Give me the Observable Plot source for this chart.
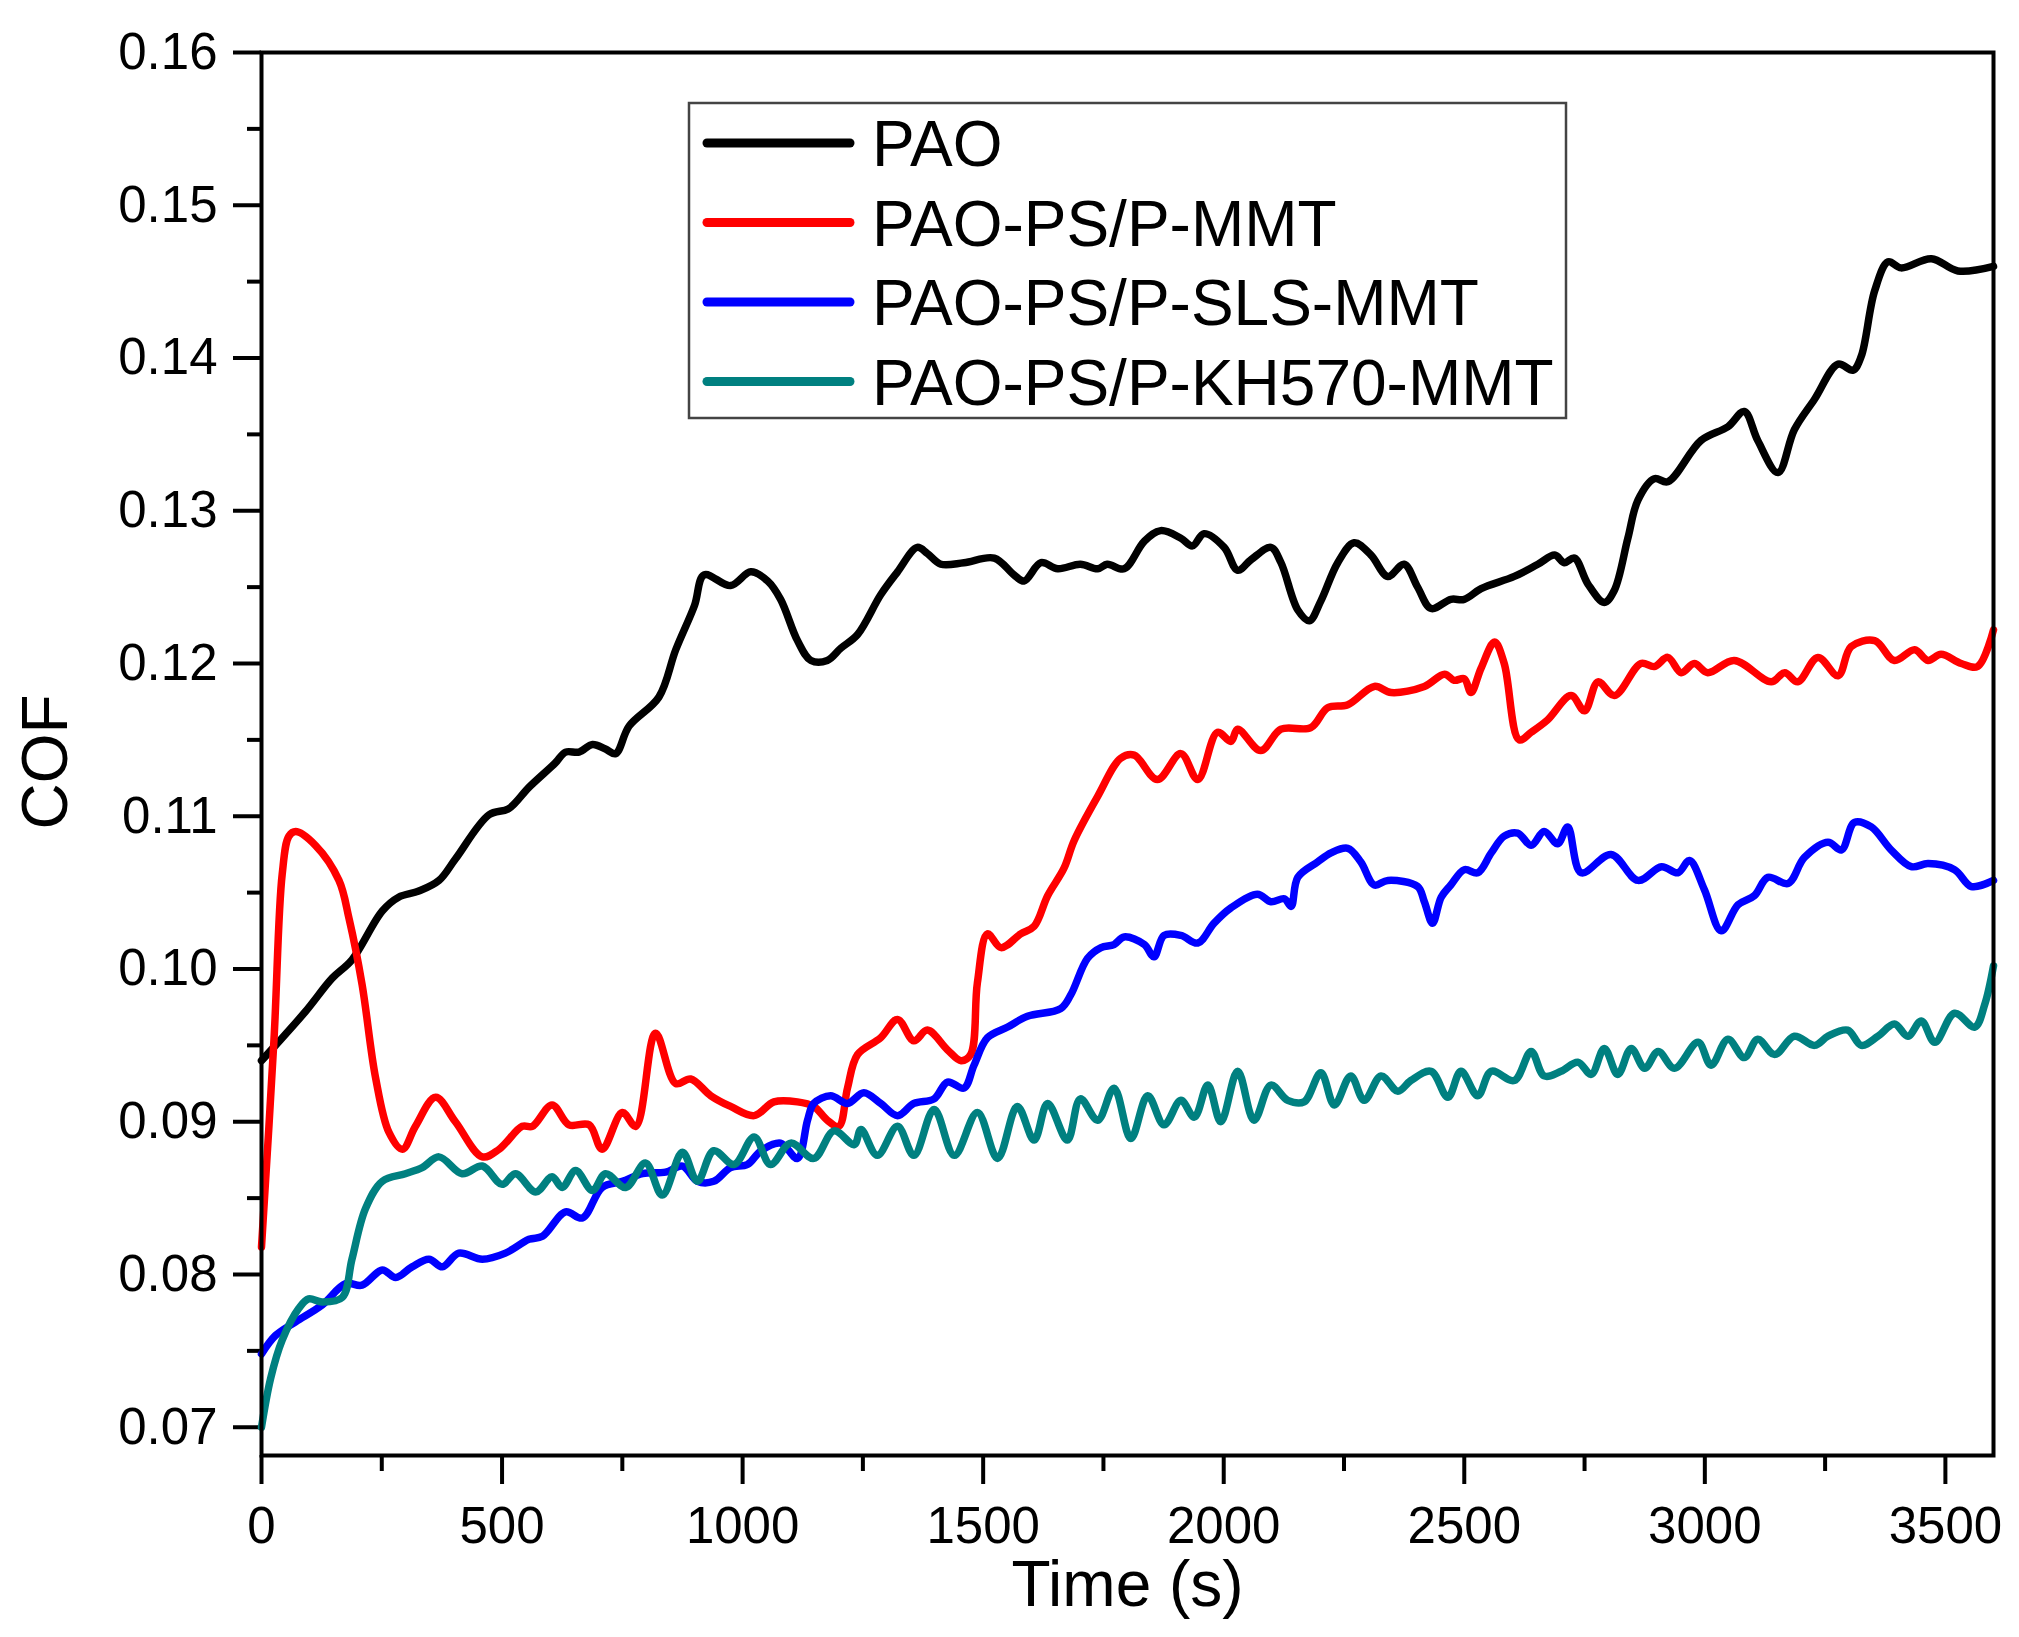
<!DOCTYPE html>
<html>
<head>
<meta charset="utf-8">
<script src="https://cdn.jsdelivr.net/npm/d3@7"></script>
<script src="https://cdn.jsdelivr.net/npm/@observablehq/plot@0.6"></script>
<style>
  html, body { margin: 0; padding: 0; background: #fff; }
  #chart { width: 2019px; height: 1637px; }
</style>
</head>
<body>
<div id="chart"></div>
<script>
const seriesNames = ["PAO", "PAO-PS/P-MMT", "PAO-PS/P-SLS-MMT", "PAO-PS/P-KH570-MMT"];
const seriesColors = ["#000000", "#ff0000", "#0000ff", "#008080"];

const tPAO = [0,29,91,147,188,251,285,327,369,403,473,514,556,611,632,660,688,715,736,764,826,861,900,920,975,1017,1052,1079,1114,1142,1176,1204,1239,1287,1322,1363,1384,1412,1460,1523,1564,1585,1620,1655,1702,1738,1758,1793,1835,1869,1911,1935,1959,2001,2029,2057,2098,2119,2154,2178,2202,2237,2271,2306,2341,2375,2403,2431,2472,2500,2535,2604,2653,2688,2708,2729,2757,2791,2812,2840,2861,2895,2923,2992,3048,3082,3110,3152,3186,3228,3277,3308,3325,3353,3381,3408,3471,3526,3600];
const cofPAO = [0.0940,0.0950,0.0972,0.0994,0.1006,0.1038,0.1047,0.1051,0.1058,0.1072,0.1101,0.1105,0.1119,0.1135,0.1142,0.1142,0.1147,0.1144,0.1141,0.1159,0.1178,0.1209,0.1238,0.1258,0.1251,0.1260,0.1254,0.1242,0.1215,0.1202,0.1202,0.1210,0.1219,0.1245,0.1260,0.1276,0.1272,0.1265,0.1266,0.1269,0.1258,0.1254,0.1266,0.1262,0.1265,0.1262,0.1265,0.1262,0.1280,0.1287,0.1282,0.1277,0.1285,0.1276,0.1261,0.1268,0.1276,0.1266,0.1235,0.1228,0.1241,0.1266,0.1279,0.1271,0.1257,0.1265,0.1250,0.1236,0.1242,0.1242,0.1249,0.1257,0.1265,0.1271,0.1266,0.1269,0.1252,0.1240,0.1248,0.1282,0.1307,0.1321,0.1319,0.1346,0.1355,0.1365,0.1346,0.1325,0.1353,0.1373,0.1396,0.1392,0.1401,0.1444,0.1463,0.1459,0.1465,0.1457,0.1460];

const tMMT = [0,26,43,57,71,112,161,182,209,237,265,293,320,362,403,459,494,542,563,604,639,681,708,750,778,819,861,892,934,975,1024,1065,1114,1148,1176,1200,1218,1239,1287,1322,1356,1384,1426,1454,1474,1488,1509,1537,1578,1606,1634,1668,1689,1738,1786,1814,1862,1911,1946,1987,2015,2029,2077,2119,2181,2216,2258,2313,2348,2417,2459,2479,2500,2514,2535,2563,2583,2614,2639,2673,2722,2750,2778,2812,2867,2895,2923,2951,2978,3006,3061,3138,3166,3193,3235,3277,3304,3353,3394,3436,3464,3491,3533,3567,3600];
const cofMMT = [0.0818,0.0954,0.1062,0.1087,0.1090,0.1081,0.1058,0.1033,0.0990,0.0929,0.0893,0.0882,0.0897,0.0916,0.0900,0.0877,0.0882,0.0897,0.0897,0.0911,0.0898,0.0898,0.0882,0.0906,0.0897,0.0958,0.0925,0.0928,0.0917,0.0910,0.0904,0.0913,0.0913,0.0910,0.0901,0.0897,0.0922,0.0944,0.0955,0.0967,0.0953,0.0960,0.0947,0.0940,0.0944,0.0991,0.1023,0.1014,0.1023,0.1028,0.1048,0.1066,0.1084,0.1113,0.1138,0.1140,0.1124,0.1141,0.1124,0.1155,0.1149,0.1157,0.1143,0.1157,0.1158,0.1171,0.1173,0.1185,0.1181,0.1185,0.1193,0.1189,0.1190,0.1181,0.1197,0.1214,0.1200,0.1150,0.1155,0.1163,0.1179,0.1169,0.1188,0.1179,0.1200,0.1198,0.1204,0.1194,0.1200,0.1194,0.1202,0.1188,0.1194,0.1188,0.1204,0.1192,0.1211,0.1215,0.1202,0.1209,0.1202,0.1206,0.1200,0.1198,0.1222];

const tSLS = [0,29,71,126,175,209,251,279,313,348,376,410,459,507,556,584,632,667,708,750,792,840,875,906,940,975,1010,1038,1079,1114,1135,1148,1183,1218,1252,1287,1322,1356,1398,1426,1460,1481,1509,1551,1592,1661,1682,1717,1745,1772,1793,1835,1855,1876,1911,1946,1980,2015,2070,2098,2126,2140,2154,2195,2223,2258,2285,2313,2341,2403,2417,2434,2452,2472,2500,2528,2556,2583,2611,2639,2666,2694,2715,2743,2805,2861,2910,2944,2968,2999,3034,3069,3103,3131,3173,3207,3256,3284,3311,3346,3387,3429,3464,3519,3554,3600];
const cofSLS = [0.0748,0.0760,0.0769,0.0780,0.0794,0.0793,0.0803,0.0798,0.0805,0.0810,0.0805,0.0814,0.0810,0.0814,0.0823,0.0825,0.0841,0.0837,0.0857,0.0861,0.0866,0.0867,0.0871,0.0861,0.0861,0.0870,0.0872,0.0881,0.0886,0.0876,0.0901,0.0912,0.0917,0.0912,0.0919,0.0912,0.0904,0.0912,0.0915,0.0926,0.0922,0.0937,0.0955,0.0962,0.0969,0.0974,0.0983,0.1007,0.1014,0.1016,0.1021,0.1016,0.1008,0.1022,0.1022,0.1017,0.1030,0.1040,0.1049,0.1044,0.1046,0.1041,0.1060,0.1070,0.1076,0.1079,0.1070,0.1055,0.1058,0.1054,0.1044,0.1030,0.1047,0.1055,0.1065,0.1063,0.1076,0.1087,0.1089,0.1081,0.1090,0.1082,0.1093,0.1063,0.1075,0.1058,0.1067,0.1063,0.1071,0.1052,0.1025,0.1042,0.1048,0.1060,0.1056,0.1073,0.1083,0.1078,0.1096,0.1093,0.1078,0.1067,0.1069,0.1065,0.1054,0.1058];

const tKH = [0,19,43,78,98,126,168,188,216,251,299,334,369,417,459,500,528,570,604,625,653,688,715,757,798,833,875,906,940,982,1024,1058,1100,1148,1190,1232,1246,1280,1322,1356,1398,1440,1488,1530,1571,1606,1634,1675,1702,1738,1772,1807,1842,1876,1911,1939,1967,1994,2029,2063,2098,2133,2167,2202,2230,2264,2292,2327,2362,2389,2431,2466,2493,2528,2556,2604,2639,2666,2701,2736,2764,2791,2819,2847,2875,2903,2937,2986,3013,3048,3082,3110,3145,3186,3228,3256,3297,3325,3360,3394,3422,3450,3478,3519,3561,3582,3600];
const cofKH = [0.0700,0.0732,0.0757,0.0778,0.0784,0.0782,0.0785,0.0810,0.0843,0.0861,0.0866,0.0870,0.0877,0.0866,0.0871,0.0859,0.0866,0.0854,0.0864,0.0857,0.0868,0.0855,0.0866,0.0857,0.0873,0.0852,0.0880,0.0861,0.0881,0.0872,0.0890,0.0872,0.0886,0.0876,0.0894,0.0885,0.0895,0.0878,0.0897,0.0878,0.0908,0.0878,0.0906,0.0876,0.0910,0.0888,0.0912,0.0888,0.0915,0.0901,0.0922,0.0889,0.0917,0.0898,0.0914,0.0903,0.0924,0.0900,0.0933,0.0901,0.0924,0.0914,0.0913,0.0932,0.0911,0.0930,0.0914,0.0930,0.0920,0.0927,0.0933,0.0916,0.0933,0.0917,0.0933,0.0927,0.0946,0.0930,0.0933,0.0939,0.0931,0.0948,0.0931,0.0948,0.0935,0.0946,0.0935,0.0952,0.0937,0.0954,0.0942,0.0954,0.0944,0.0956,0.0950,0.0956,0.0960,0.0950,0.0956,0.0964,0.0956,0.0966,0.0952,0.0971,0.0962,0.0977,0.1002];

const xMajorTicks = [0, 500, 1000, 1500, 2000, 2500, 3000, 3500];
const xMinorTicks = [250, 750, 1250, 1750, 2250, 2750, 3250];
const yMajorTicks = [0.07, 0.08, 0.09, 0.10, 0.11, 0.12, 0.13, 0.14, 0.15, 0.16];
const yMinorTicks = [0.075, 0.085, 0.095, 0.105, 0.115, 0.125, 0.135, 0.145, 0.155];

const seriesT = [tPAO, tMMT, tSLS, tKH];
const seriesV = [cofPAO, cofMMT, cofSLS, cofKH];
const rows = [];
seriesNames.forEach((name, i) => {
  seriesT[i].forEach((t, j) => rows.push({series: name, t, cof: seriesV[i][j]}));
});

const font = "'Liberation Sans', Arial, Helvetica, sans-serif";

const svg = Plot.plot({
  width: 2019,
  height: 1637,
  marginLeft: 261,
  marginRight: 26,
  marginTop: 52,
  marginBottom: 182,
  style: {fontFamily: font, background: "#fff", color: "#000", overflow: "visible"},
  x: {domain: [0, 3600]},
  y: {domain: [0.06815, 0.16]},
  color: {domain: seriesNames, range: seriesColors},
  marks: [
    Plot.axisX({ticks: xMajorTicks, tickSize: 29, tickPadding: 22, fontSize: 51, strokeWidth: 4, tickFormat: d => String(d), label: null}),
    Plot.axisX({ticks: xMinorTicks, tickSize: 16, strokeWidth: 4, text: null, label: null}),
    Plot.axisY({ticks: yMajorTicks, tickSize: 28, tickPadding: 16, fontSize: 51, strokeWidth: 4, tickFormat: d => d.toFixed(2), label: null}),
    Plot.axisY({ticks: yMinorTicks, tickSize: 14, strokeWidth: 4, text: null, label: null}),
    Plot.line(rows, {x: "t", y: "cof", z: "series", stroke: "series", strokeWidth: 7.5, curve: "catmull-rom", strokeLinejoin: "round", strokeLinecap: "round"}),
    Plot.frame({stroke: "#000", strokeWidth: 4}),
    Plot.text(["Time (s)"], {text: d => d, frameAnchor: "bottom", dy: 105, lineAnchor: "top", fontSize: 64, fill: "#000"}),
    Plot.text(["COF"], {text: d => d, frameAnchor: "left", dx: -215, dy: 8, rotate: -90, fontSize: 64, lineAnchor: "middle", textAnchor: "middle", fill: "#000"})
  ]
});

// Legend box inside the plot area
const g = d3.select(svg).append("g").attr("font-family", font).attr("text-anchor", "start");
g.append("rect")
  .attr("x", 689).attr("y", 103).attr("width", 877).attr("height", 315)
  .attr("fill", "#fff").attr("stroke", "#444").attr("stroke-width", 2.5);
seriesNames.forEach((name, i) => {
  const yRow = 143 + i * 79.5;
  g.append("line")
    .attr("x1", 707).attr("x2", 850).attr("y1", yRow).attr("y2", yRow)
    .attr("stroke", seriesColors[i]).attr("stroke-width", 9).attr("stroke-linecap", "round");
  g.append("text")
    .attr("x", 872).attr("y", yRow + 23)
    .attr("text-anchor", "start")
    .attr("font-size", 64).attr("fill", "#000")
    .text(name);
});

document.getElementById("chart").appendChild(svg);
</script>
</body>
</html>
